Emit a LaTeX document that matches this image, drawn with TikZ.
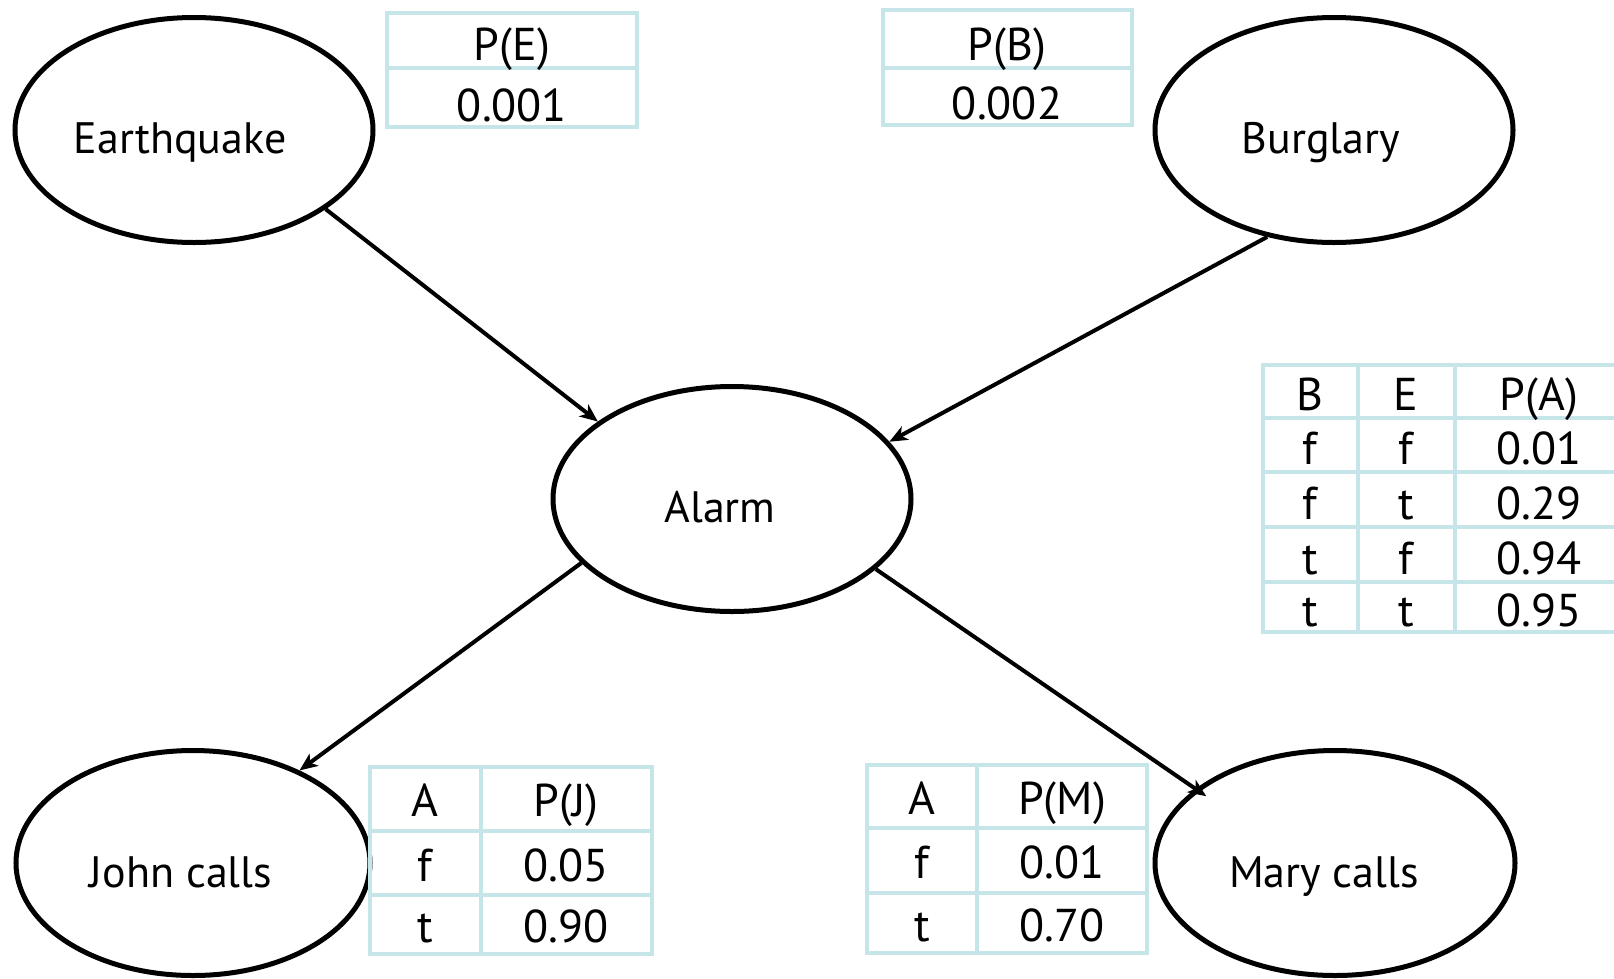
\documentclass[tikz,border=0pt]{standalone}
\usepackage{fontspec}
\setmainfont{PT Sans}
\usetikzlibrary{arrows.meta,shapes.geometric}
\definecolor{tblcol}{RGB}{198,229,232}
\tikzset{
  bnode/.style={draw=black, line width=5pt, ellipse, minimum width=358pt, minimum height=225pt, inner sep=0pt},
  lbl/.style={anchor=base, inner sep=0pt, font=\fontsize{44}{50}\selectfont},
  cell/.style={anchor=base, inner sep=0pt, font=\fontsize{46}{50}\selectfont},
  tbl/.style={draw=tblcol, line width=4.5pt},
  edge/.style={line width=4pt, -{Stealth[length=18pt,width=15pt,inset=5pt]}}
}
\begin{document}
\begin{tikzpicture}[x=1pt,y=-1pt]
\useasboundingbox (0,0) rectangle (1614,978);
% nodes
\node[bnode] (eq) at (194,130) {};
\node[bnode] (bur) at (1334,130) {};
\node[bnode] (alarm) at (732,499) {};
\node[bnode, minimum width=354pt] (john) at (193,863) {};
\node[bnode, minimum width=360pt] (mary) at (1335,863) {};
\node[lbl] (eqt) at ([xshift=-14pt,yshift=-23pt]eq.center) {Earthquake};
\node[lbl] (burt) at ([xshift=-13pt,yshift=-23pt]bur.center) {Burglary};
\node[lbl] (alarmt) at ([xshift=-12pt,yshift=-23pt]alarm.center) {Alarm};
\node[lbl] (johnt) at ([xshift=-12pt,yshift=-24pt]john.center) {John calls};
\node[lbl] (maryt) at ([xshift=-11pt,yshift=-24pt]mary.center) {Mary calls};
% edges
\draw[edge] (eq.-31) -- (alarm.150);
\draw[edge] (bur.238) -- (alarm.20);
\draw[edge] (alarm.203) -- (john.41);
\draw[edge, shorten >=-13pt] (alarm.-26) -- (mary.152);
% table P(E)
\draw[tbl] (387,13) rectangle (637,127);
\draw[tbl] (387,68) -- (637,68);
\node[cell] (pe1) at (512,60) {P(E)};
\node[cell] (pe2) at (512,121) {0.001};
% table P(B)
\draw[tbl] (883,10) rectangle (1132,125);
\draw[tbl] (883,68) -- (1132,68);
\node[cell] (pb1) at (1007,60) {P(B)};
\node[cell] (pb2) at (1007,119) {0.002};
% table P(A)
\draw[tbl] (1263,365) rectangle (1623,632);
\foreach \yy in {418,472,527,582} \draw[tbl] (1263,\yy) -- (1623,\yy);
\draw[tbl] (1358,365) -- (1358,632);
\draw[tbl] (1455,365) -- (1455,632);
\node[cell] (pa1) at (1310,410) {B};
\node[cell] (pa2) at (1406,410) {E};
\node[cell] (pa3) at (1539,410) {P(A)};
\node[cell] (pa4) at (1310,464) {f};
\node[cell] (pa5) at (1406,464) {f};
\node[cell] (pa6) at (1539,464) {0.01};
\node[cell] (pa7) at (1310,519) {f};
\node[cell] (pa8) at (1406,519) {t};
\node[cell] (pa9) at (1539,519) {0.29};
\node[cell] (pa10) at (1310,574) {t};
\node[cell] (pa11) at (1406,574) {f};
\node[cell] (pa12) at (1539,574) {0.94};
\node[cell] (pa13) at (1310,626) {t};
\node[cell] (pa14) at (1406,626) {t};
\node[cell] (pa15) at (1539,626) {0.95};
% table P(J)
\draw[tbl] (370,767) rectangle (652,954);
\draw[tbl] (370,831) -- (652,831);
\draw[tbl] (370,895) -- (652,895);
\draw[tbl] (481,767) -- (481,954);
\node[cell] (pj1) at (425,816) {A};
\node[cell] (pj2) at (566,816) {P(J)};
\node[cell] (pj3) at (425,881) {f};
\node[cell] (pj4) at (566,881) {0.05};
\node[cell] (pj5) at (425,942) {t};
\node[cell] (pj6) at (566,942) {0.90};
% table P(M)
\draw[tbl] (867,765) rectangle (1147,953);
\draw[tbl] (867,828) -- (1147,828);
\draw[tbl] (867,893) -- (1147,893);
\draw[tbl] (977,765) -- (977,953);
\node[cell] (pm1) at (922,814) {A};
\node[cell] (pm2) at (1062,814) {P(M)};
\node[cell] (pm3) at (922,878) {f};
\node[cell] (pm4) at (1062,878) {0.01};
\node[cell] (pm5) at (922,941) {t};
\node[cell] (pm6) at (1062,941) {0.70};
\end{tikzpicture}
\end{document}
